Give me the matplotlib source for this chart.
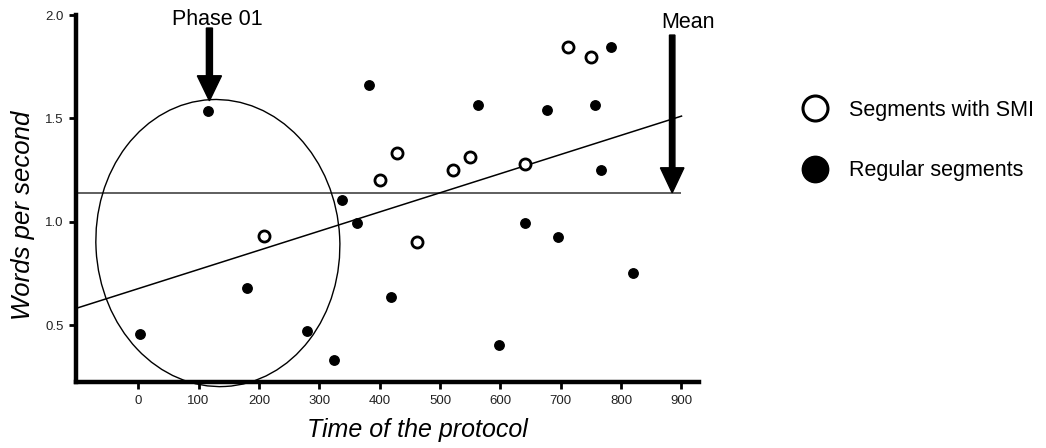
import matplotlib
matplotlib.use("Agg")
import matplotlib.pyplot as plt
from matplotlib.patches import Ellipse
from matplotlib.lines import Line2D
from matplotlib.transforms import Affine2D

plt.rcParams['font.family'] = ['Liberation Sans', 'DejaVu Sans']

# ---- data ----
regular_x = [3, 116, 180, 279, 325, 337, 363, 383, 419, 563, 598, 641, 677, 695, 757, 767, 784, 819]
regular_y = [0.457, 1.537, 0.678, 0.473, 0.329, 1.105, 0.995, 1.661, 0.636, 1.563, 0.402, 0.992, 1.539, 0.928, 1.563, 1.252, 1.847, 0.753]
smi_x = [209, 400, 428, 462, 521, 549, 641, 712, 750]
smi_y = [0.931, 1.202, 1.331, 0.902, 1.252, 1.313, 1.278, 1.847, 1.795]
mean_value = 1.14
mean_span = [-103, 900]
trend_x = [-103, 900]
trend_y = [0.581, 1.511]
phase_center = (132, 0.897)
phase_size = (404, 1.389)
x_ticks = [0, 100, 200, 300, 400, 500, 600, 700, 800, 900]
y_ticks = [0.5, 1.0, 1.5, 2.0]
y_ticklabels = ['0.5', '1.0', '1.5', '2.0']

W, H = 1046, 448
fig = plt.figure(figsize=(W / 100, H / 100), dpi=100)
ax = fig.add_axes([76 / W, 1 - 382 / H, (699 - 76) / W, (382 - 15) / H])

ax.set_xlim(-103, 929)
ax.set_ylim(0.225, 2.0)

# lines
ax.hlines(mean_value, mean_span[0], mean_span[1], color='#333333', lw=1.1, zorder=2)
ax.plot(trend_x, trend_y, color='black', lw=1.1, zorder=2)
cx, cy = ax.transData.transform(phase_center)
ell = Ellipse(phase_center, phase_size[0], phase_size[1], fill=False,
              ec='black', lw=1.0, clip_on=False, zorder=2)
ell.set_transform(ax.transData + Affine2D().rotate_deg_around(cx, cy, 3))
ax.add_patch(ell)

# points
ax.plot(regular_x, regular_y, 'o', color='black', ms=6.8, zorder=3, clip_on=False)
ax.plot(smi_x, smi_y, 'o', mfc='white', mec='black', mew=2.0, ms=8.0, zorder=3, clip_on=False)

# arrows
ax.arrow(118, 1.937, 0, 1.585 - 1.937, width=10, head_width=40, head_length=0.121,
         length_includes_head=True, fc='black', ec='black', zorder=4)
ax.arrow(884.6, 1.903, 0, mean_value - 1.903, width=9, head_width=39, head_length=0.121,
         length_includes_head=True, fc='black', ec='black', zorder=4)
ax.text(131, 1.952, 'Phase 01', ha='center', va='baseline', fontsize=15.5, clip_on=False)
ax.text(910, 1.937, 'Mean', ha='center', va='baseline', fontsize=15.5, clip_on=False)

# spines / ticks
for s in ['top', 'right']:
    ax.spines[s].set_visible(False)
for s in ['left', 'bottom']:
    ax.spines[s].set_linewidth(3.2)
ax.set_xticks(x_ticks)
ax.set_xticklabels([str(v) for v in x_ticks])
ax.set_yticks(y_ticks)
ax.set_yticklabels(y_ticklabels)
ax.tick_params(axis='both', direction='out', length=5, width=2, labelsize=9.5,
               labelcolor='#222222', pad=4)

ax.set_xlabel('Time of the protocol', fontsize=18, style='italic')
ax.xaxis.label.set_va('center')
ax.xaxis.set_label_coords((417.5 - 76) / 623, (382 - 430) / 367)
ax.set_ylabel('Words per second', fontsize=18.5, style='italic')
ax.yaxis.label.set_va('center')
ax.yaxis.set_label_coords((23 - 76) / 623, (382 - 215) / 367)

# legend
handles = [Line2D([], [], ls='none', marker='o', mfc='white', mec='black', mew=2.2, ms=18,
                  label='Segments with SMI'),
           Line2D([], [], ls='none', marker='o', mfc='black', mec='black', ms=19,
                  label='Regular segments')]
fig.legend(handles=handles, loc='center left', bbox_to_anchor=(804 / W, 1 - 140.5 / H),
           frameon=False, fontsize=15.5, handlelength=1.0, handletextpad=1.08,
           borderpad=0, borderaxespad=0, labelspacing=1.85)

fig.savefig('out.png', dpi=100)
